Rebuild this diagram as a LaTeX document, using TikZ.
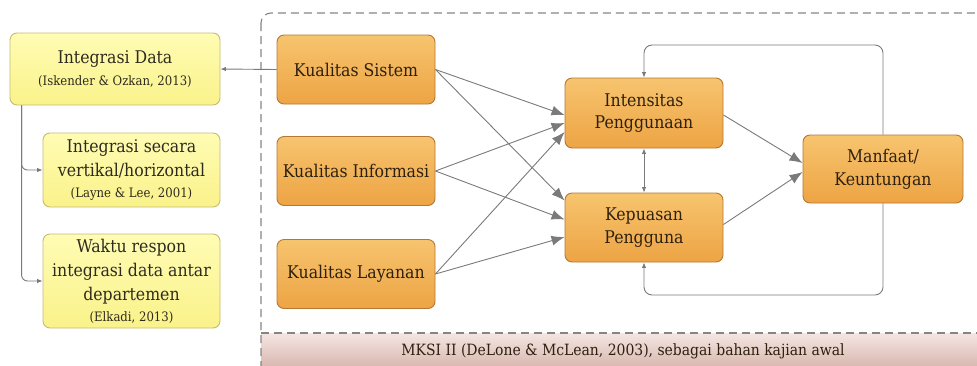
\documentclass[tikz,border=0pt]{standalone}
\usepackage{fontspec}
\setmainfont{DejaVu Serif Condensed}
\usetikzlibrary{arrows.meta,calc}
\definecolor{orTop}{HTML}{F7C46F}
\definecolor{orBot}{HTML}{EDA444}
\definecolor{orBorder}{HTML}{B47834}
\definecolor{orText}{HTML}{2E200E}
\definecolor{yeTop}{HTML}{FFFCB4}
\definecolor{yeBot}{HTML}{FAF28A}
\definecolor{yeBorder}{HTML}{C4BC74}
\definecolor{yeText}{HTML}{2E2A1E}
\definecolor{bandTop}{HTML}{F5E6E2}
\definecolor{bandBot}{HTML}{CDA59C}
\definecolor{lineGray}{HTML}{7A7A7A}
\definecolor{dashGray}{HTML}{858585}
\newcommand\citesize{\fontsize{13}{15}\selectfont}
\begin{document}
\begin{tikzpicture}[x=1pt,y=-1pt,
  orangebox/.style={draw=orBorder, line width=0.9pt, rounded corners=7pt,
    top color=orTop, bottom color=orBot, text=orText, align=center,
    inner sep=0pt, font=\fontsize{17.5}{23}\selectfont,
    minimum width=158pt, minimum height=69pt},
  yellowbox/.style={draw=yeBorder, line width=0.9pt, rounded corners=7pt,
    top color=yeTop, bottom color=yeBot, text=yeText, align=center,
    inner sep=0pt, font=\fontsize{17.5}{24}\selectfont},
  bigarrow/.style={draw=lineGray, line width=0.9pt, -{Latex[length=13pt,width=10pt]}},
  smallarrow/.style={draw=lineGray, line width=0.9pt, -{Latex[length=5.5pt,width=4.5pt]}},
  dashline/.style={draw=dashGray, line width=1.1pt, dash pattern=on 8pt off 5pt}
]
\clip (0,0) rectangle (977,365);
\useasboundingbox (0,0) rectangle (977,365);

% MKSI region
\fill[top color=bandTop, bottom color=bandBot] (261,333) rectangle (992,380);
\draw[dashline, rounded corners=10pt] (261,13) rectangle (992,385);
\draw[dashline] (261,333) -- (992,333);
\node[text=orText, font=\fontsize{15.5}{17}\selectfont] (band) at (623,351)
  {MKSI II (DeLone \& McLean, 2003), sebagai bahan kajian awal};

% left yellow boxes
\node[yellowbox, minimum width=210pt, minimum height=72pt] (intD) at (115,69)
  {Integrasi Data\\[-2pt]{\citesize (Iskender \& Ozkan, 2013)}};
\node[yellowbox, minimum width=177pt, minimum height=74pt] (intV) at (131.5,170)
  {Integrasi secara\\vertikal/horizontal\\[-3pt]{\citesize (Layne \& Lee, 2001)}};
\node[yellowbox, minimum width=177pt, minimum height=94pt] (waktu) at (131.5,281)
  {Waktu respon\\integrasi data antar\\departemen\\[-3pt]{\citesize (Elkadi, 2013)}};

% orange boxes
\node[orangebox] (ks) at (356,69.5) {Kualitas Sistem};
\node[orangebox] (ki) at (356,171) {Kualitas Informasi};
\node[orangebox] (kl) at (356,274) {Kualitas Layanan};
\node[orangebox, minimum height=70pt] (ip) at (644,113) {Intensitas\\Penggunaan};
\node[orangebox] (kp) at (644,227.5) {Kepuasan\\Pengguna};
\node[orangebox, minimum width=160pt, minimum height=68pt] (mf) at (883,169) {Manfaat/\\Keuntungan};

% connectors
\draw[smallarrow] (ks.west) -- (intD.east);
\coordinate (trunk) at ($(intD.south west)+(12,0)$);
\draw[smallarrow, rounded corners=6pt] (trunk) |- (intV.west);
\draw[smallarrow, rounded corners=6pt] (trunk) |- (waktu.west);

\draw[bigarrow] (ks.east) -- ($(ip.west)+(0,2)$);
\draw[bigarrow] (ki.east) -- ($(ip.west)+(0,10)$);
\draw[bigarrow] (kl.east) -- ($(ip.west)+(0,19)$);
\draw[bigarrow] (ks.east) -- ($(kp.west)+(0,-27)$);
\draw[bigarrow] (ki.east) -- ($(kp.west)+(0,-8)$);
\draw[bigarrow] (kl.east) -- ($(kp.west)+(0,9.5)$);

\draw[bigarrow] ($(ip.east)+(0,2)$) -- ($(mf.west)+(0,-6)$);
\draw[bigarrow] ($(kp.east)+(0,-3)$) -- ($(mf.west)+(0,3)$);

\draw[draw=lineGray, line width=0.9pt, {Latex[length=5.5pt,width=4.5pt]}-{Latex[length=5.5pt,width=4.5pt]}] (ip.south) -- (kp.north);

\coordinate (topy) at (0,45);
\coordinate (boty) at (0,295);
\draw[smallarrow, rounded corners=8pt] (mf.north) |- (ip.north |- topy) -- (ip.north);
\draw[smallarrow, rounded corners=8pt] (mf.south) |- (kp.south |- boty) -- (kp.south);
\end{tikzpicture}
\end{document}
